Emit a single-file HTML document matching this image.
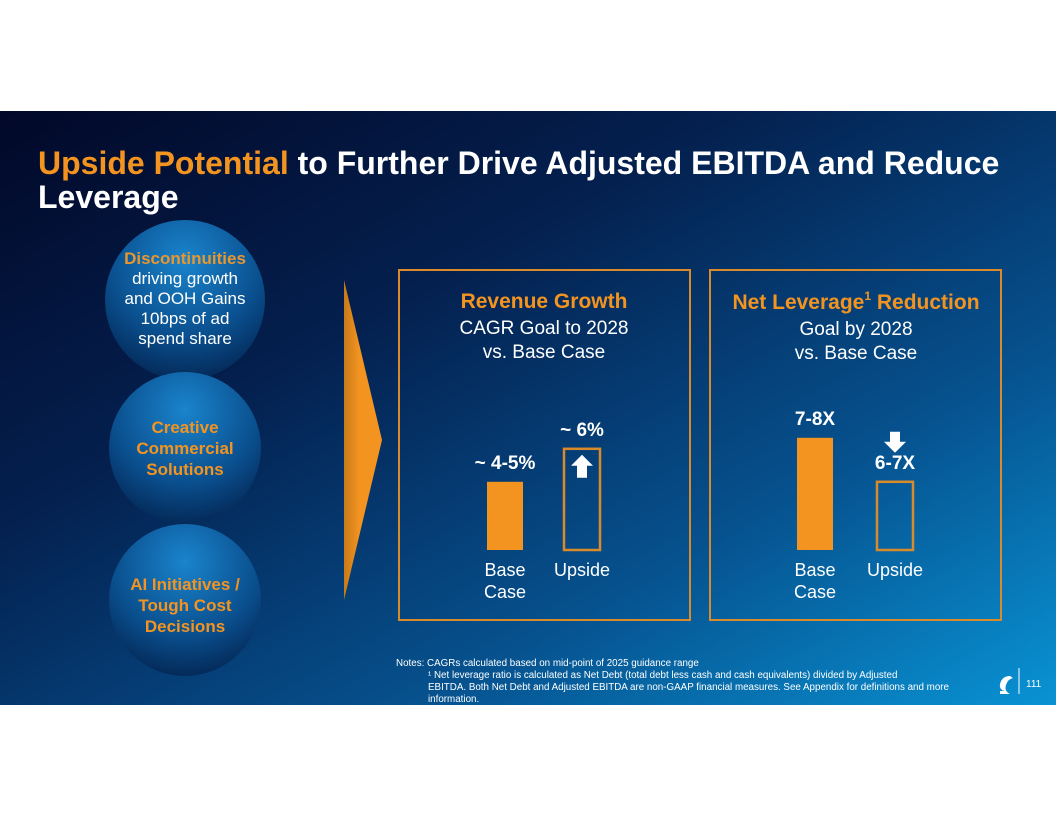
<!DOCTYPE html>
<html><head><meta charset="utf-8"><style>
body{margin:0;background:#fff;width:1056px;height:816px;overflow:hidden;font-family:"Liberation Sans",sans-serif}
svg{display:block}
text{font-family:"Liberation Sans",sans-serif}
</style></head><body>
<svg width="1056" height="816" viewBox="0 0 1056 816">
<defs>
<linearGradient id="bg" x1="0" y1="0" x2="1" y2="1">
<stop offset="0" stop-color="#020828"/><stop offset="0.35" stop-color="#04204f"/><stop offset="0.7" stop-color="#06528f"/><stop offset="1" stop-color="#0993d4"/></linearGradient>
<radialGradient id="cg" cx="0.5" cy="0.25" r="0.8">
<stop offset="0" stop-color="#1a84cc"/><stop offset="0.6" stop-color="#0a4f8e"/><stop offset="1" stop-color="#03234f"/></radialGradient>
<linearGradient id="wg" x1="0" y1="0" x2="1" y2="0"><stop offset="0" stop-color="#c77a1a"/><stop offset="0.4" stop-color="#f39420"/></linearGradient>
</defs>
<rect x="0" y="111" width="1056" height="594" fill="url(#bg)"/>
<text x="38" y="174" font-size="32" font-weight="bold" fill="#fff"><tspan fill="#f39420">Upside Potential</tspan> to Further Drive Adjusted EBITDA and Reduce</text>
<text x="38" y="208" font-size="32" font-weight="bold" fill="#fff">Leverage</text>

<g>
<circle cx="185" cy="300" r="80" fill="url(#cg)"/>
<text x="185" y="264" font-size="17" font-weight="bold" fill="#e8962e" text-anchor="middle">Discontinuities</text>
<g font-size="17" fill="#fff" text-anchor="middle"><text x="185" y="284">driving growth</text><text x="185" y="304">and OOH Gains</text><text x="185" y="324">10bps of ad</text><text x="185" y="344">spend share</text></g>
</g>
<g>
<circle cx="185" cy="448" r="76" fill="url(#cg)"/>
<g font-size="17" font-weight="bold" fill="#f39420" text-anchor="middle"><text x="185" y="433">Creative</text><text x="185" y="454">Commercial</text><text x="185" y="475">Solutions</text></g>
</g>
<g>
<circle cx="185" cy="600" r="76" fill="url(#cg)"/>
<g font-size="17" font-weight="bold" fill="#f39420" text-anchor="middle"><text x="185" y="590">AI Initiatives /</text><text x="185" y="611">Tough Cost</text><text x="185" y="632">Decisions</text></g>
</g>
<polygon points="344,280 382,440 344,600" fill="url(#wg)"/>

<rect x="399" y="270" width="291" height="350" fill="none" stroke="#d98a2a" stroke-width="2"/>
<rect x="710" y="270" width="291" height="350" fill="none" stroke="#d98a2a" stroke-width="2"/>
<text x="544" y="308" font-size="21" font-weight="bold" fill="#f39420" text-anchor="middle">Revenue Growth</text>
<text x="544" y="334" font-size="19" fill="#fff" text-anchor="middle">CAGR Goal to 2028</text>
<text x="544" y="358" font-size="19" fill="#fff" text-anchor="middle">vs. Base Case</text>
<text x="856" y="309" font-size="21" font-weight="bold" fill="#f39420" text-anchor="middle">Net Leverage<tspan font-size="12" dy="-9">1</tspan><tspan dy="9"> Reduction</tspan></text>
<text x="856" y="335" font-size="19" fill="#fff" text-anchor="middle">Goal by 2028</text>
<text x="856" y="359" font-size="19" fill="#fff" text-anchor="middle">vs. Base Case</text>
<g id="bars"></g>

<g font-size="9.8" fill="#fff">
<text x="396" y="666">Notes: CAGRs calculated based on mid-point of 2025 guidance range</text>
<text x="428" y="678">¹ Net leverage ratio is calculated as Net Debt (total debt less cash and cash equivalents) divided by Adjusted</text>
<text x="428" y="690">EBITDA. Both Net Debt and Adjusted EBITDA are non-GAAP financial measures. See Appendix for definitions and more</text>
<text x="428" y="702">information.</text>
</g>
<path d="M1010,676 q-8,0 -10,8 q-1,6 5,7 l-5,0 l0,3 l10,0 q-6,-3 -4,-9 q2,-6 7,-7z" fill="#fff"/>
<line x1="1019" y1="668" x2="1019" y2="694" stroke="#fff" stroke-width="1"/>
<text x="1026" y="687" font-size="10" fill="#fff">111</text>
</svg>
<script>
const categories=["Base Case","Upside"];
const revenueValues=[4.5,6];
const revenueLabels=["~ 4-5%","~ 6%"];
const leverageValues=[7.5,6.5];
const leverageLabels=["7-8X","6-7X"];
const NS="http://www.w3.org/2000/svg";
const g=document.getElementById('bars');
function mk(t,a){const e=document.createElementNS(NS,t);for(const k in a)e.setAttribute(k,a[k]);g.appendChild(e);return e;}
function panel(vals,labels,x0s,vmin,k,name,arrowDir){
  const base=550;
  vals.forEach((v,i)=>{
    const h=(v-vmin)*k, x=x0s[i], w=36, top=base-h;
    const r=mk('rect',i===0?{x:x,y:top,width:w,height:h,fill:'#f39420'}:{x:x,y:top,width:w,height:h,fill:'none',stroke:'#d98a2a','stroke-width':2.5});
    
    
    const cx=x+w/2;
    const ly=top-13;
    const t=mk('text',{x:cx,y:ly,'font-size':19,'font-weight':'bold',fill:'#fff','text-anchor':'middle'});
    t.textContent=labels[i];
    
    
    if(i===1){
      let p;
      if(arrowDir==='up') p=`${cx},${top+6} ${cx+11},${top+17} ${cx+5},${top+17} ${cx+5},${top+29} ${cx-5},${top+29} ${cx-5},${top+17} ${cx-11},${top+17}`;
      else {const a=top-50; p=`${cx-5},${a} ${cx+5},${a} ${cx+5},${a+10} ${cx+11},${a+10} ${cx},${a+21} ${cx-11},${a+10} ${cx-5},${a+10}`;}
      const ar=mk('polygon',{points:p,fill:'#fff'});
      
      
    }
    const words=categories[i].split(' ');
    words.forEach((wd,j)=>{
      const c=mk('text',{x:cx,y:576+j*22,'font-size':18,fill:'#fff','text-anchor':'middle'});
      c.textContent=wd;
      
      
    });
  });
}
panel(revenueValues,revenueLabels,[487,564],1.4,22,'revenue','up');
panel(leverageValues,leverageLabels,[797,877],4.95,44,'leverage','down');
</script>
</body></html>
